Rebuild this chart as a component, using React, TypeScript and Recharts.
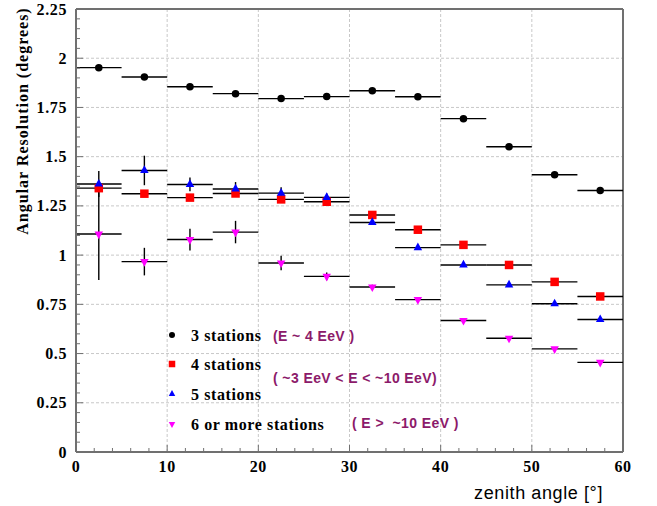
import React from 'react';
import { ScatterChart, Scatter, XAxis, YAxis, ErrorBar, ReferenceLine } from 'recharts';

// ---------- data ----------
const binCenters = [2.5, 7.5, 12.5, 17.5, 22.5, 27.5, 32.5, 37.5, 42.5, 47.5, 52.5, 57.5];
const binHalfWidth = [2.5, 2.5, 2.5, 2.5, 2.5, 2.5, 2.5, 2.5, 2.5, 2.5, 2.5, 2.5];

const res3 = [1.952, 1.905, 1.855, 1.82, 1.795, 1.805, 1.835, 1.804, 1.693, 1.55, 1.408, 1.328];
const err3 = [0.006, 0.006, 0.005, 0.005, 0.005, 0.005, 0.005, 0.005, 0.005, 0.005, 0.005, 0.005];

const res4 = [1.34, 1.312, 1.292, 1.313, 1.283, 1.271, 1.204, 1.129, 1.052, 0.95, 0.864, 0.79];
const err4 = [0.012, 0.01, 0.01, 0.01, 0.008, 0.008, 0.008, 0.006, 0.006, 0.006, 0.006, 0.006];

const res5 = [1.361, 1.43, 1.359, 1.336, 1.315, 1.293, 1.166, 1.038, 0.95, 0.849, 0.753, 0.673];
const err5 = [0.066, 0.075, 0.035, 0.035, 0.03, 0.02, 0.012, 0.01, 0.008, 0.008, 0.008, 0.008];

const res6 = [1.107, 0.967, 1.079, 1.117, 0.96, 0.892, 0.838, 0.774, 0.668, 0.578, 0.524, 0.455];
const err6 = [0.233, 0.07, 0.055, 0.057, 0.037, 0.02, 0.012, 0.008, 0.008, 0.008, 0.008, 0.008];

const seriesNames = ['3 stations', '4 stations', '5 stations', '6 or more stations'];
const seriesColors = ['#000000', '#ff0000', '#0000ff', '#ff00ff'];
const seriesShapes = ['circle', 'square', 'triangleUp', 'triangleDown'];
const energyNotes = ['(E ~ 4 EeV )', '( ~3 EeV < E < ~10 EeV)', '( E >  ~10 EeV )'];

const xMajorTicks = [0, 10, 20, 30, 40, 50, 60];
const yMajorTicks = [0, 0.25, 0.5, 0.75, 1, 1.25, 1.5, 1.75, 2, 2.25];
const xMinorPerMajor = 5;
const yMinorPerMajor = 5;

const xAxisLabel = 'zenith angle [\u00b0]';
const yAxisLabel = 'Angular Resolution (degrees)';

// ---------- helpers ----------
const build = (vals: number[], errs: number[]) =>
  binCenters.map((x, i) => ({ x, y: vals[i], ex: binHalfWidth[i], ey: errs[i] }));

const seriesData = [build(res3, err3), build(res4, err4), build(res5, err5), build(res6, err6)];

const subdivide = (majors: number[], n: number) => {
  const out: number[] = [];
  for (let i = 0; i < majors.length - 1; i++) {
    const step = (majors[i + 1] - majors[i]) / n;
    for (let k = 0; k < n; k++) out.push(Number((majors[i] + k * step).toFixed(4)));
  }
  out.push(majors[majors.length - 1]);
  return out;
};
const xAllTicks = subdivide(xMajorTicks, xMinorPerMajor);
const yAllTicks = subdivide(yMajorTicks, yMinorPerMajor);
const isMajor = (v: number, majors: number[]) => majors.some((m) => Math.abs(m - v) < 1e-6);
const fmt = (v: number) => String(Number(v.toFixed(2)));

const SERIF = '"Liberation Serif", "DejaVu Serif", serif';
const SANS = '"Liberation Sans", Arial, sans-serif';
const TICK_MARGIN_Y = 9;
const TICK_MARGIN_X = 14;
const AXIS_COLOR = '#707070';

const YTick = (props: any) => {
  const { x, y, payload } = props;
  const v = payload.value;
  const major = isMajor(v, yMajorTicks);
  const ax = x + TICK_MARGIN_Y;
  return (
    <g>
      <line x1={ax} x2={ax + (major ? 7 : 4)} y1={y} y2={y} stroke={AXIS_COLOR} strokeWidth={1} />
      {major && (
        <text x={x} y={y} textAnchor="end" dominantBaseline="central" fontFamily={SERIF}
          fontWeight="bold" fontSize={16} letterSpacing={0.6} fill="#000">
          {fmt(v)}
        </text>
      )}
    </g>
  );
};

const XTick = (props: any) => {
  const { x, y, payload } = props;
  const v = payload.value;
  const major = isMajor(v, xMajorTicks);
  const ay = y - TICK_MARGIN_X;
  return (
    <g>
      <line x1={x} x2={x} y1={ay} y2={ay - (major ? 7 : 4)} stroke={AXIS_COLOR} strokeWidth={1} />
      {major && (
        <text x={x} y={y} textAnchor="middle" dominantBaseline="central" fontFamily={SERIF}
          fontWeight="bold" fontSize={16} letterSpacing={0.6} fill="#000">
          {fmt(v)}
        </text>
      )}
    </g>
  );
};

const Marker = ({ kind, cx, cy, color, s }: { kind: string; cx: number; cy: number; color: string; s: number }) => {
  if (kind === 'circle') return <circle cx={cx} cy={cy} r={s * 0.5} fill={color} />;
  if (kind === 'square') return <rect x={cx - s * 0.5} y={cy - s * 0.5} width={s} height={s} fill={color} />;
  const h = s * 0.9;
  if (kind === 'triangleUp')
    return <polygon points={`${cx - s / 2},${cy + h / 3} ${cx + s / 2},${cy + h / 3} ${cx},${cy - (2 * h) / 3}`} fill={color} />;
  return <polygon points={`${cx - s / 2},${cy - h / 3} ${cx + s / 2},${cy - h / 3} ${cx},${cy + (2 * h) / 3}`} fill={color} />;
};

const makeShape = (i: number) => (props: any) => (
  <Marker kind={seriesShapes[i]} cx={props.cx} cy={props.cy} color={seriesColors[i]} s={i === 0 ? 7.5 : 8.5} />
);

const YLabel = (props: any) => {
  const vb = props.viewBox || { x: 0, y: 9 };
  const cx = vb.x + 22;
  const cy = vb.y + 112;
  return (
    <text x={cx} y={cy} transform={`rotate(-90 ${cx} ${cy})`} textAnchor="middle" dominantBaseline="central"
      fontFamily={SERIF} fontWeight="bold" fontSize={16} letterSpacing={1} fill="#000">
      {yAxisLabel}
    </text>
  );
};

const XLabel = (props: any) => {
  const vb = props.viewBox || { x: 76, y: 452, width: 547 };
  return (
    <text x={vb.x + vb.width - 20} y={vb.y + 41} textAnchor="end" dominantBaseline="central"
      fontFamily={SANS} fontSize={18} letterSpacing={0.6} fill="#000">
      {xAxisLabel}
    </text>
  );
};

const Legend = () => {
  const rows = [335, 364, 394, 424];
  const notePos = [
    [273, 336],
    [273, 378],
    [352, 423],
  ];
  return (
    <svg width={657} height={506} style={{ position: 'absolute', left: 0, top: 0, pointerEvents: 'none' }}>
      {seriesNames.map((n, i) => (
        <g key={n}>
          <Marker kind={seriesShapes[i]} cx={172} cy={rows[i]} color={seriesColors[i]} s={i === 0 ? 6 : 6.5} />
          <text x={191} y={rows[i]} dominantBaseline="central" fontFamily={SERIF} fontWeight="bold"
            fontSize={16} letterSpacing={0.6} fill="#000">
            {n}
          </text>
        </g>
      ))}
      {energyNotes.map((t, i) => (
        <text key={t} x={notePos[i][0]} y={notePos[i][1]} dominantBaseline="central" fontFamily={SANS}
          fontWeight="bold" fontSize={14} letterSpacing={0.4} fill="#8c1a6a" style={{ whiteSpace: 'pre' }}>
          {t}
        </text>
      ))}
    </svg>
  );
};

export default function App() {
  return (
    <div style={{ position: 'absolute', left: 0, top: 0, width: 657, height: 506, background: '#fff' }}>
      <ScatterChart width={657} height={506} margin={{ top: 9, right: 34, bottom: 0, left: 0 }}>
        <XAxis type="number" dataKey="x" domain={[0, 60]} ticks={xAllTicks} interval={0} allowDataOverflow
          tickSize={0} tickMargin={TICK_MARGIN_X} tick={<XTick />} tickLine={false} height={54}
          axisLine={{ stroke: AXIS_COLOR, strokeWidth: 2 }} label={<XLabel />} />
        <YAxis type="number" dataKey="y" domain={[0, 2.25]} ticks={yAllTicks} interval={0} allowDataOverflow
          tickSize={0} tickMargin={TICK_MARGIN_Y} tick={<YTick />} tickLine={false} width={76}
          axisLine={{ stroke: AXIS_COLOR, strokeWidth: 2 }} label={<YLabel />} />
        {yMajorTicks.slice(1, -1).map((v) => (
          <ReferenceLine key={'gy' + v} y={v} stroke="#c8c8c8" strokeDasharray="3 2" strokeWidth={1} />
        ))}
        {xMajorTicks.slice(1, -1).map((v) => (
          <ReferenceLine key={'gx' + v} x={v} stroke="#c8c8c8" strokeDasharray="3 2" strokeWidth={1} />
        ))}
        <ReferenceLine y={2.25} stroke={AXIS_COLOR} strokeWidth={2} />
        <ReferenceLine x={60} stroke={AXIS_COLOR} strokeWidth={2} />
        {seriesData.map((d, i) => (
          <Scatter key={seriesNames[i]} name={seriesNames[i]} data={d} fill={seriesColors[i]}
            shape={makeShape(i)} isAnimationActive={false}>
            <ErrorBar dataKey="ex" direction="x" width={0} stroke="#000" strokeWidth={1.4} />
            <ErrorBar dataKey="ey" direction="y" width={0} stroke="#000" strokeWidth={1.4} />
          </Scatter>
        ))}
      </ScatterChart>
      <Legend />
    </div>
  );
}
